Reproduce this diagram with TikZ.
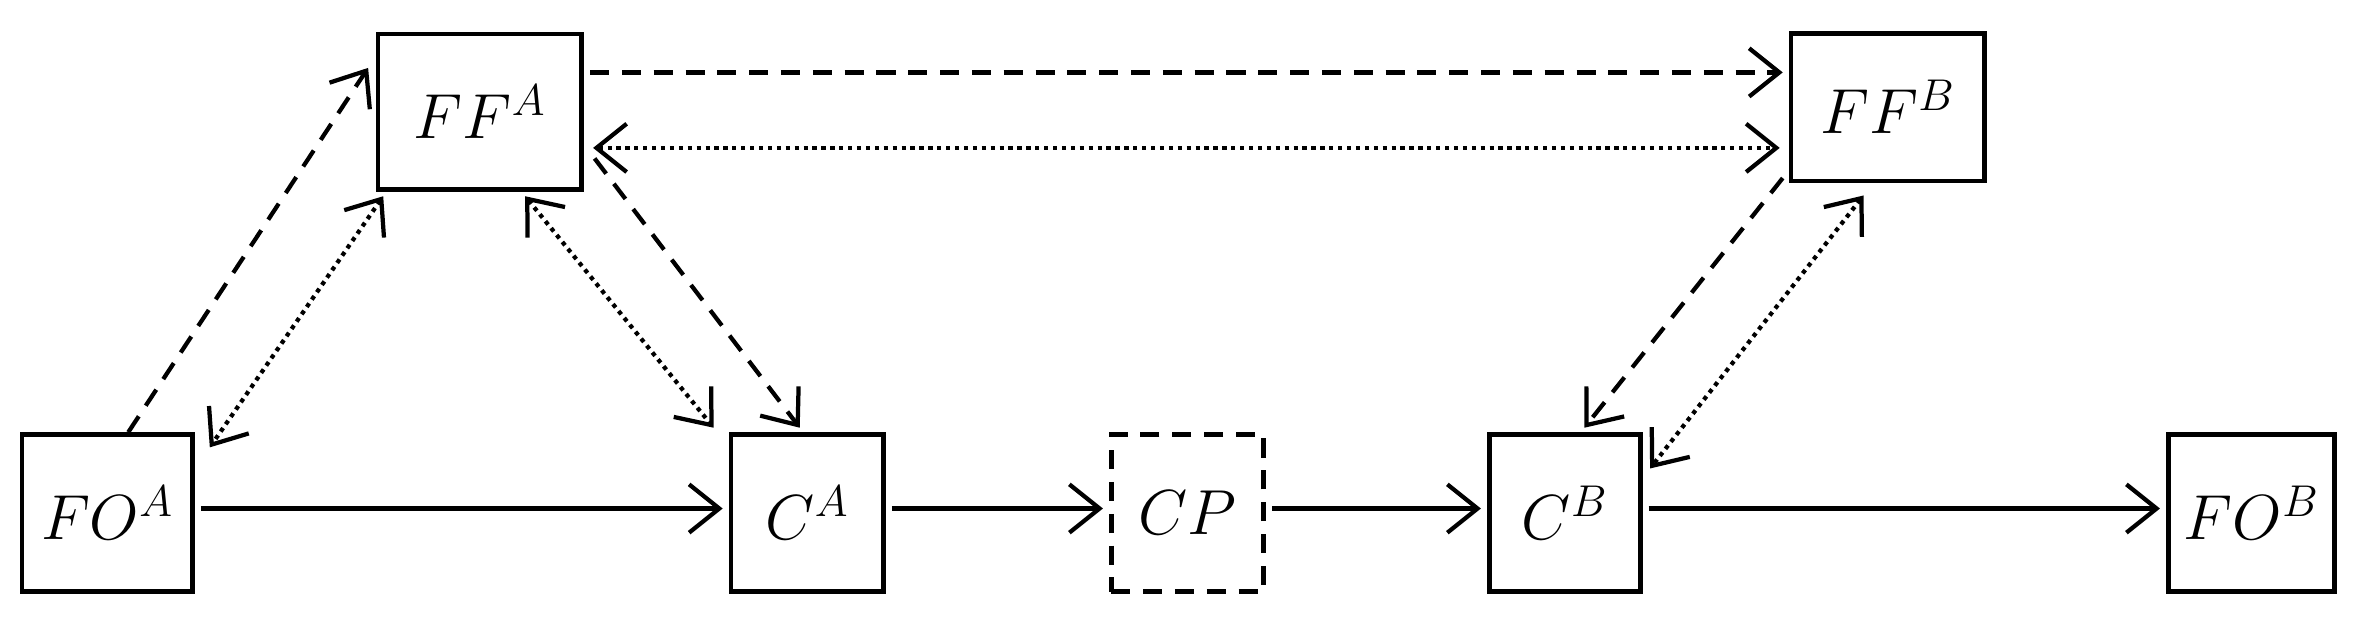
\documentclass[tikz,border=0pt]{standalone}
\usepackage{fix-cm}
\usetikzlibrary{arrows.meta,calc}
\begin{document}
\begin{tikzpicture}[x=0.25mm,y=-0.25mm,
  box/.style={draw,line width=2.2pt,inner sep=0pt,font=\fontsize{30}{36}\selectfont},
  ar/.style={line width=2pt,-{Straight Barb[length=5mm,width=8mm,line width=2pt]}},
  br/.style={ar,{Straight Barb[length=5mm,width=8mm,line width=2pt]}-{Straight Barb[length=5mm,width=8mm,line width=2pt]}},
  dsh/.style={dash pattern=on 9pt off 6pt},
  dot/.style={dash pattern=on 2pt off 2.2pt}]
\useasboundingbox (0,0) rectangle (1568,409);
\node[box,minimum width=33.75mm,minimum height=25.75mm] (ffa) at (318,74) {$FF^A$};
\node[box,minimum width=32mm,minimum height=24.5mm] (ffb) at (1251,71) {$FF^B$};
\node[box,minimum width=28.25mm,minimum height=26mm] (foa) at (71,340) {$FO^A$};
\node[box,minimum width=25.25mm,minimum height=26mm] (ca) at (535,340) {$C^A$};
\node[box,dsh,minimum width=25.25mm,minimum height=26mm] (cp) at (787,340) {$CP$};
\node[box,minimum width=25mm,minimum height=26mm] (cb) at (1037,340) {$C^B$};
\node[box,minimum width=27.5mm,minimum height=26mm] (fob) at (1492,340) {$FO^B$};
% solid chain
\draw[ar] ($(foa.east)+(4,-3)$) -- ($(ca.west)+(-4,-3)$);
\draw[ar] ($(ca.east)+(4,-3)$) -- ($(cp.west)+(-4,-3)$);
\draw[ar] ($(cp.east)+(4,-3)$) -- ($(cb.west)+(-4,-3)$);
\draw[ar] ($(cb.east)+(4,-3)$) -- ($(fob.west)+(-4,-3)$);
% top
\draw[ar,dsh] ($(ffa.east)+(4,-26)$) -- ($(ffb.west)+(-4,-23)$);
\draw[br,dot] ($(ffa.east)+(6,24)$) -- ($(ffb.west)+(-6,27)$);
% left triangle
\draw[ar,dsh] ($(foa.north)+(14,0)$) -- ($(ffa.west)+(-5,-29)$);
\draw[br,dot] ($(ffa.south west)+(5,3)$) -- ($(foa.north east)+(10,10)$);
\draw[br,dot] ($(ffa.south)+(30,3)$) -- ($(ca.north west)+(-10,-3)$);
\draw[ar,dsh] ($(ffa.east)+(7,31)$) -- ($(ca.north)+(-5,-3)$);
% right
\draw[ar,dsh] ($(ffb.west)+(-4,47)$) -- ($(cb.north)+(13,-3)$);
\draw[br,dot] ($(ffb.south)+(-16,8)$) -- ($(cb.north east)+(5,24)$);
\end{tikzpicture}
\end{document}
